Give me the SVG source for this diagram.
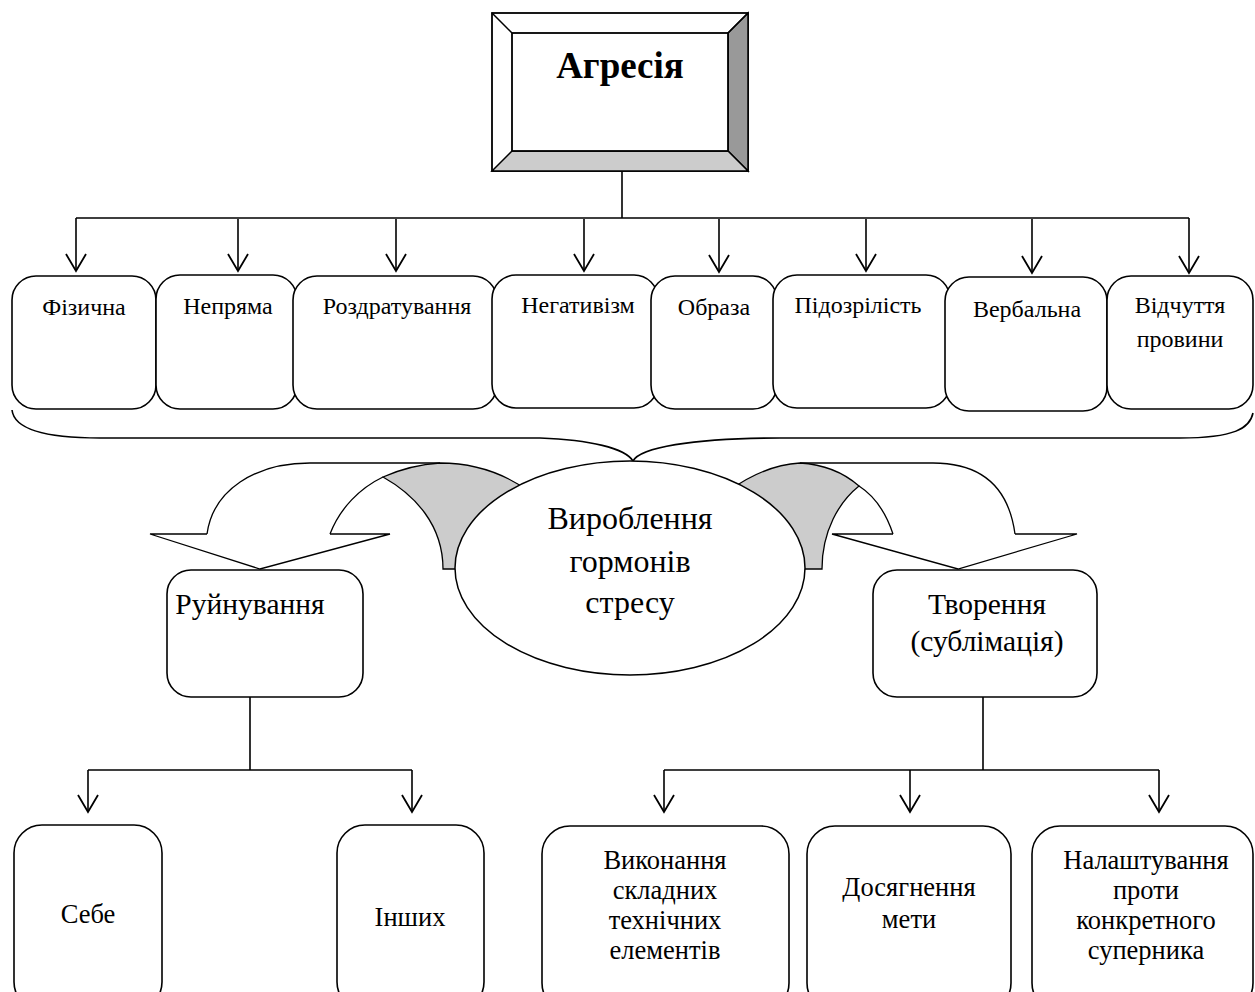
<svg xmlns="http://www.w3.org/2000/svg" width="1255" height="992" viewBox="0 0 1255 992">
<style>
text{font-family:"Liberation Serif","Times New Roman",serif;fill:#000;text-anchor:middle}
.t{font-size:24px}
.b{font-size:26.5px}
.m{font-size:29.5px}
.e{font-size:32px}
.box{fill:#fff;stroke:#000;stroke-width:1.6}
.ln{fill:none;stroke:#000;stroke-width:1.6}
.ar{fill:none;stroke:#000;stroke-width:1.6;marker-end:url(#v)}
</style>
<defs>
<marker id="v" markerUnits="userSpaceOnUse" markerWidth="30" markerHeight="30" viewBox="-20 -15 30 30" refX="0" refY="0" orient="auto" overflow="visible">
<path d="M-17,-10 L0,0 L-17,10" fill="none" stroke="#000" stroke-width="1.8"/>
</marker>
</defs>

<g id="connectors">
<path class="ln" d="M622,171 V218 M76,218 H1189"/>
<path class="ar" d="M76,218 V271"/>
<path class="ar" d="M238,219 V271"/>
<path class="ar" d="M396,219 V271"/>
<path class="ar" d="M584,219 V271"/>
<path class="ar" d="M719,219 V272"/>
<path class="ar" d="M866,219 V271"/>
<path class="ar" d="M1032,219 V273"/>
<path class="ar" d="M1189,218 V273"/>
<path class="ln" d="M12,410 C14,428 40,438 100,438 L540,438 C590,440 625,448 633,461 C640,448 690,438 780,438 L1180,438 C1235,438 1250,428 1253,413"/>
<path class="ln" d="M250,697 V770 M88,770 H412"/>
<path class="ar" d="M88,770 V812"/>
<path class="ar" d="M412,770 V812"/>
<path class="ln" d="M983,697 V770 M664,770 H1159"/>
<path class="ar" d="M664,770 V812"/>
<path class="ar" d="M910,770 V812"/>
<path class="ar" d="M1159,770 V812"/>
</g>

<g id="arrow-left">
<path d="M383,477 Q410,465 440,463 Q490,463 530,492 L470,569 L443,569 C443,525 415,495 383,477 Z" fill="#cccccc" stroke="#000" stroke-width="1.3"/>
<path class="ln" style="stroke-width:1.3" d="M207,534 C213,490 255,463 310,463 L440,463"/>
<path class="ln" style="stroke-width:1.3" d="M330,534 C340,508 360,488 383,477"/>
<path class="ln" style="stroke-width:1.3" d="M207,534 L150,534 L260,569 L390,534 L330,534"/>
</g>
<g id="arrow-right">
<path d="M730,490 Q765,465 800,463 Q835,465 859,486 C839,502 822,531 822,569 L790,569 Z" fill="#cccccc" stroke="#000" stroke-width="1.3"/>
<path class="ln" style="stroke-width:1.3" d="M1015,534 C1009,490 985,463 933,463 L800,463"/>
<path class="ln" style="stroke-width:1.3" d="M893,534 C885,510 873,495 859,486"/>
<path class="ln" style="stroke-width:1.3" d="M893,534 L832,534 L958,569 L1077,534 L1015,534"/>
</g>

<g id="agresiya">
<rect x="492" y="13" width="256" height="158" fill="#fff" stroke="#000" stroke-width="1.8"/>
<polygon points="748,13 728,33 728,151 748,171" fill="#999999" stroke="#000" stroke-width="1.5"/>
<polygon points="492,171 512,151 728,151 748,171" fill="#cccccc" stroke="#000" stroke-width="1.5"/>
<path d="M492,13 L512,33 M748,13 L728,33" stroke="#000" stroke-width="1.5"/>
<rect x="512" y="33" width="216" height="118" fill="#fff" stroke="#000" stroke-width="1.8"/>
<text x="620" y="78" style="font-size:37px;font-weight:bold">Агресія</text>
</g>

<g id="n1"><rect class="box" x="12" y="276" width="144" height="133" rx="24"/><text class="t" x="84" y="315">Фізична</text></g>
<g id="n2"><rect class="box" x="156" y="275" width="141" height="134" rx="24"/><text class="t" x="228" y="314">Непряма</text></g>
<g id="n3"><rect class="box" x="293" y="276" width="204" height="133" rx="24"/><text class="t" x="397" y="314">Роздратування</text></g>
<g id="n4"><rect class="box" x="492" y="275" width="166" height="133" rx="24"/><text class="t" x="578" y="313">Негативізм</text></g>
<g id="n5"><rect class="box" x="651" y="276" width="126" height="133" rx="24"/><text class="t" x="714" y="315">Образа</text></g>
<g id="n6"><rect class="box" x="773" y="275" width="177" height="133" rx="24"/><text class="t" x="858" y="313">Підозрілість</text></g>
<g id="n7"><rect class="box" x="945" y="277" width="162" height="134" rx="24"/><text class="t" x="1027" y="317">Вербальна</text></g>
<g id="n8"><rect class="box" x="1107" y="276" width="146" height="133" rx="24"/><text class="t" x="1180" y="313">Відчуття</text><text class="t" x="1180" y="347">провини</text></g>

<g id="hormones">
<ellipse cx="630" cy="568" rx="175" ry="107" fill="#fff" stroke="#000" stroke-width="1.5"/>
<text class="e" x="630" y="529">Вироблення</text>
<text class="e" x="630" y="572">гормонів</text>
<text class="e" x="630" y="613">стресу</text>
</g>

<g id="ruinuvannya"><rect class="box" x="167" y="570" width="196" height="127" rx="24"/><text class="m" x="250" y="614">Руйнування</text></g>
<g id="tvorennya"><rect class="box" x="873" y="570" width="224" height="127" rx="24"/><text class="m" x="987" y="614">Творення</text><text class="m" x="987" y="651">(сублімація)</text></g>

<g id="sebe"><rect class="box" x="14" y="825" width="148" height="185" rx="28"/><text class="b" x="88" y="923">Себе</text></g>
<g id="inshykh"><rect class="box" x="337" y="825" width="147" height="185" rx="28"/><text class="b" x="410" y="926">Інших</text></g>
<g id="vykonannya"><rect class="box" x="542" y="826" width="247" height="185" rx="28"/>
<text class="b" x="665" y="869">Виконання</text><text class="b" x="665" y="899">складних</text><text class="b" x="665" y="929">технічних</text><text class="b" x="665" y="959">елементів</text></g>
<g id="dosyahnennya"><rect class="box" x="807" y="826" width="204" height="185" rx="28"/>
<text class="b" x="909" y="896">Досягнення</text><text class="b" x="909" y="928">мети</text></g>
<g id="nalashtuvannya"><rect class="box" x="1032" y="826" width="221" height="185" rx="28"/>
<text class="b" x="1146" y="869">Налаштування</text><text class="b" x="1146" y="899">проти</text><text class="b" x="1146" y="929">конкретного</text><text class="b" x="1146" y="959">суперника</text></g>
</svg>
